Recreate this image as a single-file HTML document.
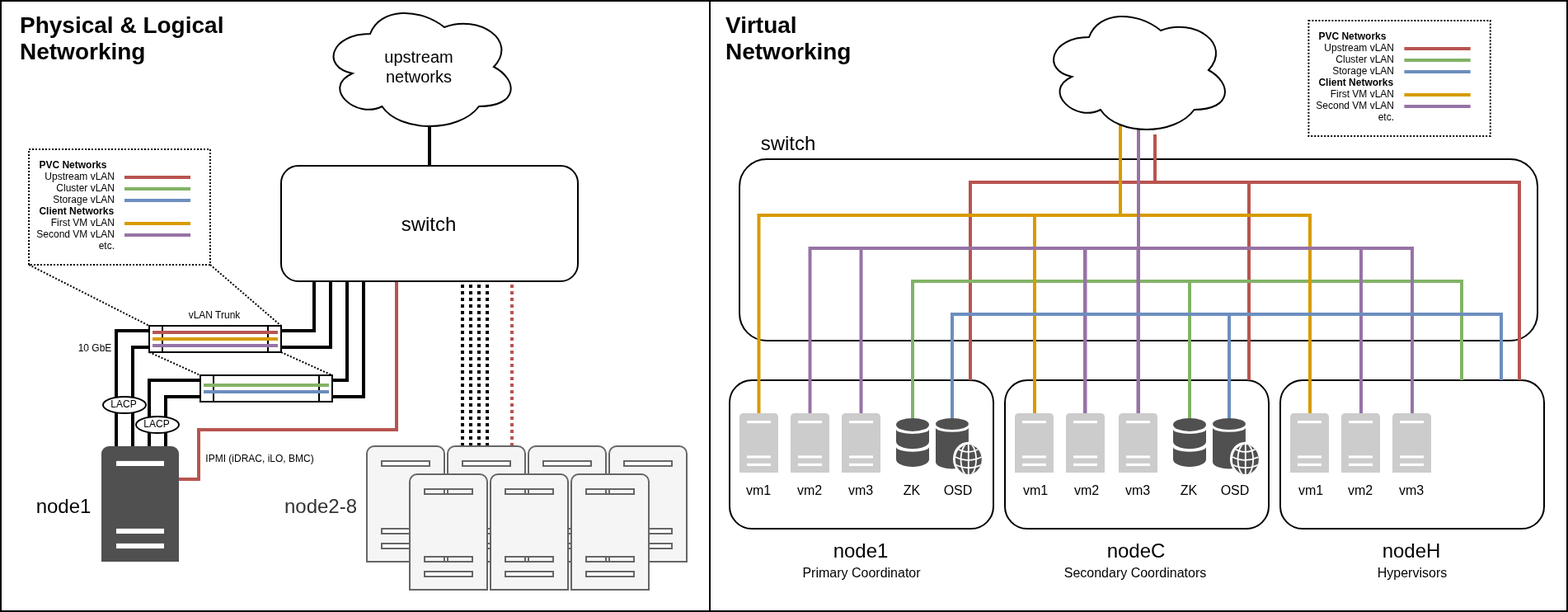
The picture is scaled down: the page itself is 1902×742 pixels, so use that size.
<!DOCTYPE html>
<html lang="en">
<head>
<meta charset="utf-8">
<title>Physical, Logical and Virtual Networking</title>
<style>
html,body{margin:0;padding:0;background:#fff;}
body{width:1902px;height:742px;overflow:hidden;}
svg{display:block;will-change:transform;}
svg text{font-family:"Liberation Sans",sans-serif;}
</style>
</head>
<body>
<svg width="1902" height="742" viewBox="0 0 1902 742">
<rect x="1" y="1" width="860" height="740" fill="#fff" stroke="#000" stroke-width="2"/>
<rect x="861" y="1" width="1040" height="740" fill="#fff" stroke="#000" stroke-width="2"/>
<text x="24" y="40" font-size="28" font-weight="bold">Physical &amp; Logical</text>
<text x="24" y="72" font-size="28" font-weight="bold">Networking</text>
<path d="M521 150 L521 201" fill="none" stroke="#000" stroke-width="4"/>
<path d="M449.00 41.00 C401.00 41.00 389.00 81.00 427.40 89.00 C389.00 106.60 432.20 145.00 463.40 129.00 C485.00 161.00 557.00 161.00 581.00 129.00 C629.00 129.00 629.00 97.00 599.00 81.00 C629.00 49.00 581.00 17.00 539.00 33.00 C509.00 9.00 461.00 9.00 449.00 41.00 Z" fill="#fff" stroke="#000" stroke-width="2"/>
<text x="508" y="76" font-size="20" text-anchor="middle">upstream</text>
<text x="508" y="100" font-size="20" text-anchor="middle">networks</text>
<path d="M561 345 L561 541" fill="none" stroke="#000" stroke-width="4" stroke-dasharray="4 4"/>
<path d="M571 345 L571 541" fill="none" stroke="#000" stroke-width="4" stroke-dasharray="4 4"/>
<path d="M581 345 L581 541" fill="none" stroke="#000" stroke-width="4" stroke-dasharray="4 4"/>
<path d="M591 345 L591 541" fill="none" stroke="#000" stroke-width="4" stroke-dasharray="4 4"/>
<path d="M621 345 L621 541" fill="none" stroke="#b85450" stroke-width="4" stroke-dasharray="4 4"/>
<path d="M341 401 L381 401 L381 341" fill="none" stroke="#000" stroke-width="4"/>
<path d="M341 421 L401 421 L401 341" fill="none" stroke="#000" stroke-width="4"/>
<path d="M403 461 L421 461 L421 341" fill="none" stroke="#000" stroke-width="4"/>
<path d="M403 481 L441 481 L441 341" fill="none" stroke="#000" stroke-width="4"/>
<path d="M141 541 L141 401 L181 401" fill="none" stroke="#000" stroke-width="4"/>
<path d="M161 541 L161 421 L181 421" fill="none" stroke="#000" stroke-width="4"/>
<path d="M181 541 L181 461 L243 461" fill="none" stroke="#000" stroke-width="4"/>
<path d="M201 541 L201 481 L243 481" fill="none" stroke="#000" stroke-width="4"/>
<path d="M217 581 L241 581 L241 521 L481 521 L481 341" fill="none" stroke="#b85450" stroke-width="4"/>
<rect x="341" y="201" width="360" height="140" rx="21" ry="21" fill="#fff" stroke="#000" stroke-width="2"/>
<text x="520" y="279.5" font-size="24" text-anchor="middle">switch</text>
<rect x="35" y="181" width="220" height="140" fill="#fff" stroke="#000" stroke-width="2" stroke-dasharray="2 2"/>
<text x="47.4" y="204" font-size="12" font-weight="bold">PVC Networks</text>
<text x="139" y="218" font-size="12" text-anchor="end">Upstream vLAN</text>
<path d="M151 215 L231 215" fill="none" stroke="#b85450" stroke-width="4"/>
<text x="139" y="232" font-size="12" text-anchor="end">Cluster vLAN</text>
<path d="M151 229 L231 229" fill="none" stroke="#82b366" stroke-width="4"/>
<text x="139" y="246" font-size="12" text-anchor="end">Storage vLAN</text>
<path d="M151 243 L231 243" fill="none" stroke="#6c8ebf" stroke-width="4"/>
<text x="47.4" y="260" font-size="12" font-weight="bold">Client Networks</text>
<text x="139" y="274" font-size="12" text-anchor="end">First VM vLAN</text>
<path d="M151 271 L231 271" fill="none" stroke="#d79b00" stroke-width="4"/>
<text x="139" y="288" font-size="12" text-anchor="end">Second VM vLAN</text>
<path d="M151 285 L231 285" fill="none" stroke="#9673a6" stroke-width="4"/>
<text x="139" y="302" font-size="12" text-anchor="end">etc.</text>
<path d="M35 321 L181 395" fill="none" stroke="#000" stroke-width="2" stroke-dasharray="2 2"/>
<path d="M255 321 L341 395" fill="none" stroke="#000" stroke-width="2" stroke-dasharray="2 2"/>
<path d="M181 427 L243 455" fill="none" stroke="#000" stroke-width="2" stroke-dasharray="2 2"/>
<path d="M341 427 L403 455" fill="none" stroke="#000" stroke-width="2" stroke-dasharray="2 2"/>
<rect x="181" y="395" width="160" height="32" fill="#fff" stroke="#000" stroke-width="2"/>
<path d="M197 395 L197 427" fill="none" stroke="#000" stroke-width="2"/>
<path d="M325 395 L325 427" fill="none" stroke="#000" stroke-width="2"/>
<path d="M185 403 L337 403" fill="none" stroke="#b85450" stroke-width="4"/>
<path d="M185 411 L337 411" fill="none" stroke="#d79b00" stroke-width="4"/>
<path d="M185 419 L337 419" fill="none" stroke="#9673a6" stroke-width="4"/>
<rect x="243" y="455" width="160" height="32" fill="#fff" stroke="#000" stroke-width="2"/>
<path d="M259 455 L259 487" fill="none" stroke="#000" stroke-width="2"/>
<path d="M387 455 L387 487" fill="none" stroke="#000" stroke-width="2"/>
<path d="M247 467 L399 467" fill="none" stroke="#82b366" stroke-width="4"/>
<path d="M247 475 L399 475" fill="none" stroke="#6c8ebf" stroke-width="4"/>
<text x="260" y="386" font-size="12" text-anchor="middle">vLAN Trunk</text>
<text x="115" y="426" font-size="12" text-anchor="middle">10 GbE</text>
<ellipse cx="151" cy="491" rx="26" ry="10" fill="#fff" stroke="#000" stroke-width="2"/>
<text x="150" y="493.5" font-size="12" text-anchor="middle">LACP</text>
<ellipse cx="191" cy="515" rx="26" ry="10" fill="#fff" stroke="#000" stroke-width="2"/>
<text x="190" y="517.5" font-size="12" text-anchor="middle">LACP</text>
<text x="315" y="560" font-size="12" text-anchor="middle">IPMI (iDRAC, iLO, BMC)</text>
<path d="M123 681 L123 550 A9 9 0 0 1 132 541 L208 541 A9 9 0 0 1 217 550 L217 681 Z" fill="#505050"/>
<rect x="141" y="558.9" width="58" height="6.1" fill="#fff"/>
<rect x="141" y="640.9" width="58" height="6.1" fill="#fff"/>
<rect x="141" y="658.9" width="58" height="6.1" fill="#fff"/>
<text x="77" y="622" font-size="24" text-anchor="middle">node1</text>
<text x="389" y="622" font-size="24" text-anchor="middle" fill="#333">node2-8</text>
<path d="M445 681 L445 550 A9 9 0 0 1 454 541 L530 541 A9 9 0 0 1 539 550 L539 681 Z M463 559 h58 v6 h-58 Z M463 641 h58 v6 h-58 Z M463 659 h58 v6 h-58 Z" fill="#f5f5f5" fill-rule="evenodd" stroke="#666" stroke-width="2" stroke-linejoin="miter"/>
<path d="M543 681 L543 550 A9 9 0 0 1 552 541 L628 541 A9 9 0 0 1 637 550 L637 681 Z M561 559 h58 v6 h-58 Z M561 641 h58 v6 h-58 Z M561 659 h58 v6 h-58 Z" fill="#f5f5f5" fill-rule="evenodd" stroke="#666" stroke-width="2" stroke-linejoin="miter"/>
<path d="M641 681 L641 550 A9 9 0 0 1 650 541 L726 541 A9 9 0 0 1 735 550 L735 681 Z M659 559 h58 v6 h-58 Z M659 641 h58 v6 h-58 Z M659 659 h58 v6 h-58 Z" fill="#f5f5f5" fill-rule="evenodd" stroke="#666" stroke-width="2" stroke-linejoin="miter"/>
<path d="M739 681 L739 550 A9 9 0 0 1 748 541 L824 541 A9 9 0 0 1 833 550 L833 681 Z M757 559 h58 v6 h-58 Z M757 641 h58 v6 h-58 Z M757 659 h58 v6 h-58 Z" fill="#f5f5f5" fill-rule="evenodd" stroke="#666" stroke-width="2" stroke-linejoin="miter"/>
<path d="M497 715 L497 584 A9 9 0 0 1 506 575 L582 575 A9 9 0 0 1 591 584 L591 715 Z M515 593 h58 v6 h-58 Z M515 675 h58 v6 h-58 Z M515 693 h58 v6 h-58 Z" fill="#f5f5f5" fill-rule="evenodd" stroke="#666" stroke-width="2" stroke-linejoin="miter"/>
<path d="M595 715 L595 584 A9 9 0 0 1 604 575 L680 575 A9 9 0 0 1 689 584 L689 715 Z M613 593 h58 v6 h-58 Z M613 675 h58 v6 h-58 Z M613 693 h58 v6 h-58 Z" fill="#f5f5f5" fill-rule="evenodd" stroke="#666" stroke-width="2" stroke-linejoin="miter"/>
<path d="M693 715 L693 584 A9 9 0 0 1 702 575 L778 575 A9 9 0 0 1 787 584 L787 715 Z M711 593 h58 v6 h-58 Z M711 675 h58 v6 h-58 Z M711 693 h58 v6 h-58 Z" fill="#f5f5f5" fill-rule="evenodd" stroke="#666" stroke-width="2" stroke-linejoin="miter"/>
<text x="880" y="40" font-size="28" font-weight="bold">Virtual</text>
<text x="880" y="72" font-size="28" font-weight="bold">Networking</text>
<text x="956" y="182" font-size="24" text-anchor="middle">switch</text>
<rect x="897" y="193" width="968" height="220" rx="33" ry="33" fill="#fff" stroke="#000" stroke-width="2"/>
<rect x="1587.4" y="25" width="220.4" height="140" fill="#fff" stroke="#000" stroke-width="2" stroke-dasharray="2 2"/>
<text x="1599.4" y="48" font-size="12" font-weight="bold">PVC Networks</text>
<text x="1691" y="62" font-size="12" text-anchor="end">Upstream vLAN</text>
<path d="M1703.4 59 L1783.7 59" fill="none" stroke="#b85450" stroke-width="4"/>
<text x="1691" y="76" font-size="12" text-anchor="end">Cluster vLAN</text>
<path d="M1703.4 73 L1783.7 73" fill="none" stroke="#82b366" stroke-width="4"/>
<text x="1691" y="90" font-size="12" text-anchor="end">Storage vLAN</text>
<path d="M1703.4 87 L1783.7 87" fill="none" stroke="#6c8ebf" stroke-width="4"/>
<text x="1599.4" y="104" font-size="12" font-weight="bold">Client Networks</text>
<text x="1691" y="118" font-size="12" text-anchor="end">First VM vLAN</text>
<path d="M1703.4 115 L1783.7 115" fill="none" stroke="#d79b00" stroke-width="4"/>
<text x="1691" y="132" font-size="12" text-anchor="end">Second VM vLAN</text>
<path d="M1703.4 129 L1783.7 129" fill="none" stroke="#9673a6" stroke-width="4"/>
<text x="1691" y="146" font-size="12" text-anchor="end">etc.</text>
<rect x="885" y="461" width="320" height="180" rx="27" ry="27" fill="#fff" stroke="#000" stroke-width="2"/>
<rect x="1219" y="461" width="320" height="180" rx="27" ry="27" fill="#fff" stroke="#000" stroke-width="2"/>
<rect x="1553" y="461" width="320" height="180" rx="27" ry="27" fill="#fff" stroke="#000" stroke-width="2"/>
<path d="M1401 163 L1401 221" fill="none" stroke="#b85450" stroke-width="4" stroke-linejoin="miter"/>
<path d="M1177 461 L1177 221 L1843 221 L1843 461" fill="none" stroke="#b85450" stroke-width="4" stroke-linejoin="miter"/>
<path d="M1515 221 L1515 461" fill="none" stroke="#b85450" stroke-width="4" stroke-linejoin="miter"/>
<path d="M1107 507 L1107 341 L1773 341 L1773 461" fill="none" stroke="#82b366" stroke-width="4" stroke-linejoin="miter"/>
<path d="M1443 341 L1443 507" fill="none" stroke="#82b366" stroke-width="4" stroke-linejoin="miter"/>
<path d="M920.5 501 L920.5 261 L1589 261 L1589 501" fill="none" stroke="#d79b00" stroke-width="4" stroke-linejoin="miter"/>
<path d="M1255 261 L1255 501" fill="none" stroke="#d79b00" stroke-width="4" stroke-linejoin="miter"/>
<path d="M1359 150 L1359 261" fill="none" stroke="#d79b00" stroke-width="4" stroke-linejoin="miter"/>
<path d="M982.5 501 L982.5 301 L1713 301 L1713 501" fill="none" stroke="#9673a6" stroke-width="4" stroke-linejoin="miter"/>
<path d="M1044.5 301 L1044.5 501" fill="none" stroke="#9673a6" stroke-width="4" stroke-linejoin="miter"/>
<path d="M1651 301 L1651 501" fill="none" stroke="#9673a6" stroke-width="4" stroke-linejoin="miter"/>
<path d="M1316.25 301 L1316.25 501" fill="none" stroke="#9673a6" stroke-width="4.5"/>
<path d="M1380.75 301 L1380.75 501" fill="none" stroke="#9673a6" stroke-width="4.5"/>
<path d="M1381 150 L1381 303" fill="none" stroke="#9673a6" stroke-width="4" stroke-linejoin="miter"/>
<path d="M1155 507 L1155 381 L1821 381 L1821 461" fill="none" stroke="#6c8ebf" stroke-width="4" stroke-linejoin="miter"/>
<path d="M1491 381 L1491 507" fill="none" stroke="#6c8ebf" stroke-width="4" stroke-linejoin="miter"/>
<path d="M1321.00 45.00 C1274.60 45.00 1263.00 85.00 1300.12 93.00 C1263.00 110.60 1304.76 149.00 1334.92 133.00 C1355.80 165.00 1425.40 165.00 1448.60 133.00 C1495.00 133.00 1495.00 101.00 1466.00 85.00 C1495.00 53.00 1448.60 21.00 1408.00 37.00 C1379.00 13.00 1332.60 13.00 1321.00 45.00 Z" fill="#fff" stroke="#000" stroke-width="2"/>
<path d="M897 573 L897 505.6 A4.6 4.6 0 0 1 901.6 501 L939.4 501 A4.6 4.6 0 0 1 944 505.6 L944 573 Z" fill="#cccccc"/>
<rect x="906" y="510.051" width="29" height="3.08571" fill="#fff"/>
<rect x="906" y="552.377" width="29" height="3.13714" fill="#fff"/>
<rect x="906" y="561.84" width="29" height="3.13714" fill="#fff"/>
<text x="920" y="600" font-size="16" text-anchor="middle">vm1</text>
<path d="M959 573 L959 505.6 A4.6 4.6 0 0 1 963.6 501 L1001.4 501 A4.6 4.6 0 0 1 1006 505.6 L1006 573 Z" fill="#cccccc"/>
<rect x="968" y="510.051" width="29" height="3.08571" fill="#fff"/>
<rect x="968" y="552.377" width="29" height="3.13714" fill="#fff"/>
<rect x="968" y="561.84" width="29" height="3.13714" fill="#fff"/>
<text x="982" y="600" font-size="16" text-anchor="middle">vm2</text>
<path d="M1021 573 L1021 505.6 A4.6 4.6 0 0 1 1025.6 501 L1063.4 501 A4.6 4.6 0 0 1 1068 505.6 L1068 573 Z" fill="#cccccc"/>
<rect x="1030" y="510.051" width="29" height="3.08571" fill="#fff"/>
<rect x="1030" y="552.377" width="29" height="3.13714" fill="#fff"/>
<rect x="1030" y="561.84" width="29" height="3.13714" fill="#fff"/>
<text x="1044" y="600" font-size="16" text-anchor="middle">vm3</text>
<ellipse cx="1107" cy="514.95" rx="20" ry="7.95" fill="#505050"/>
<path d="M1087 520.4 A20 5.6 0 0 0 1127 520.4 L1127 535.2 A20 9 0 0 1 1087 535.2 Z" fill="#505050"/>
<path d="M1087 542.1 A20 5.6 0 0 0 1127 542.1 L1127 556.9 A20 9 0 0 1 1087 556.9 Z" fill="#505050"/>
<ellipse cx="1154.95" cy="514" rx="19.95" ry="7" fill="#505050"/>
<path d="M1135 518.5 A19.95 5.3 0 0 0 1174.9 518.5 L1174.9 560 A19.95 8.5 0 0 1 1135 560 Z" fill="#505050"/>
<ellipse cx="1174.5" cy="556.55" rx="18.55" ry="20.8" fill="#fff"/>
<ellipse cx="1174.8" cy="557.05" rx="15.95" ry="18" fill="#505050"/>
<clipPath id="gc133"><ellipse cx="1174.8" cy="557.05" rx="15.95" ry="18"/></clipPath>
<g clip-path="url(#gc133)"><g fill="none" stroke="#fff" stroke-width="1.8"><path d="M1174.8 539.05 v36"/><ellipse cx="1174.8" cy="557.05" rx="9.251" ry="19.8"/><path d="M1158.85 542.15 Q1174.8 553.55 1190.75 542.15"/><path d="M1158.85 553.95 Q1174.8 561.75 1190.75 553.95"/><path d="M1158.85 563.3 Q1174.8 571.2 1190.75 563.3"/></g></g>
<text x="1106" y="600" font-size="16" text-anchor="middle">ZK</text>
<text x="1162" y="600" font-size="16" text-anchor="middle">OSD</text>
<path d="M1231 573 L1231 505.6 A4.6 4.6 0 0 1 1235.6 501 L1273.4 501 A4.6 4.6 0 0 1 1278 505.6 L1278 573 Z" fill="#cccccc"/>
<rect x="1240" y="510.051" width="29" height="3.08571" fill="#fff"/>
<rect x="1240" y="552.377" width="29" height="3.13714" fill="#fff"/>
<rect x="1240" y="561.84" width="29" height="3.13714" fill="#fff"/>
<text x="1256" y="600" font-size="16" text-anchor="middle">vm1</text>
<path d="M1293 573 L1293 505.6 A4.6 4.6 0 0 1 1297.6 501 L1335.4 501 A4.6 4.6 0 0 1 1340 505.6 L1340 573 Z" fill="#cccccc"/>
<rect x="1302" y="510.051" width="29" height="3.08571" fill="#fff"/>
<rect x="1302" y="552.377" width="29" height="3.13714" fill="#fff"/>
<rect x="1302" y="561.84" width="29" height="3.13714" fill="#fff"/>
<text x="1318" y="600" font-size="16" text-anchor="middle">vm2</text>
<path d="M1357 573 L1357 505.6 A4.6 4.6 0 0 1 1361.6 501 L1399.4 501 A4.6 4.6 0 0 1 1404 505.6 L1404 573 Z" fill="#cccccc"/>
<rect x="1366" y="510.051" width="29" height="3.08571" fill="#fff"/>
<rect x="1366" y="552.377" width="29" height="3.13714" fill="#fff"/>
<rect x="1366" y="561.84" width="29" height="3.13714" fill="#fff"/>
<text x="1380" y="600" font-size="16" text-anchor="middle">vm3</text>
<ellipse cx="1443" cy="514.95" rx="20" ry="7.95" fill="#505050"/>
<path d="M1423 520.4 A20 5.6 0 0 0 1463 520.4 L1463 535.2 A20 9 0 0 1 1423 535.2 Z" fill="#505050"/>
<path d="M1423 542.1 A20 5.6 0 0 0 1463 542.1 L1463 556.9 A20 9 0 0 1 1423 556.9 Z" fill="#505050"/>
<ellipse cx="1490.95" cy="514" rx="19.95" ry="7" fill="#505050"/>
<path d="M1471 518.5 A19.95 5.3 0 0 0 1510.9 518.5 L1510.9 560 A19.95 8.5 0 0 1 1471 560 Z" fill="#505050"/>
<ellipse cx="1510.5" cy="556.55" rx="18.55" ry="20.8" fill="#fff"/>
<ellipse cx="1510.8" cy="557.05" rx="15.95" ry="18" fill="#505050"/>
<clipPath id="gc159"><ellipse cx="1510.8" cy="557.05" rx="15.95" ry="18"/></clipPath>
<g clip-path="url(#gc159)"><g fill="none" stroke="#fff" stroke-width="1.8"><path d="M1510.8 539.05 v36"/><ellipse cx="1510.8" cy="557.05" rx="9.251" ry="19.8"/><path d="M1494.85 542.15 Q1510.8 553.55 1526.75 542.15"/><path d="M1494.85 553.95 Q1510.8 561.75 1526.75 553.95"/><path d="M1494.85 563.3 Q1510.8 571.2 1526.75 563.3"/></g></g>
<text x="1442" y="600" font-size="16" text-anchor="middle">ZK</text>
<text x="1498" y="600" font-size="16" text-anchor="middle">OSD</text>
<path d="M1565 573 L1565 505.6 A4.6 4.6 0 0 1 1569.6 501 L1607.4 501 A4.6 4.6 0 0 1 1612 505.6 L1612 573 Z" fill="#cccccc"/>
<rect x="1574" y="510.051" width="29" height="3.08571" fill="#fff"/>
<rect x="1574" y="552.377" width="29" height="3.13714" fill="#fff"/>
<rect x="1574" y="561.84" width="29" height="3.13714" fill="#fff"/>
<text x="1590" y="600" font-size="16" text-anchor="middle">vm1</text>
<path d="M1627 573 L1627 505.6 A4.6 4.6 0 0 1 1631.6 501 L1669.4 501 A4.6 4.6 0 0 1 1674 505.6 L1674 573 Z" fill="#cccccc"/>
<rect x="1636" y="510.051" width="29" height="3.08571" fill="#fff"/>
<rect x="1636" y="552.377" width="29" height="3.13714" fill="#fff"/>
<rect x="1636" y="561.84" width="29" height="3.13714" fill="#fff"/>
<text x="1650" y="600" font-size="16" text-anchor="middle">vm2</text>
<path d="M1689 573 L1689 505.6 A4.6 4.6 0 0 1 1693.6 501 L1731.4 501 A4.6 4.6 0 0 1 1736 505.6 L1736 573 Z" fill="#cccccc"/>
<rect x="1698" y="510.051" width="29" height="3.08571" fill="#fff"/>
<rect x="1698" y="552.377" width="29" height="3.13714" fill="#fff"/>
<rect x="1698" y="561.84" width="29" height="3.13714" fill="#fff"/>
<text x="1712" y="600" font-size="16" text-anchor="middle">vm3</text>
<text x="1044" y="676" font-size="24" text-anchor="middle">node1</text>
<text x="1045" y="700" font-size="16" text-anchor="middle">Primary Coordinator</text>
<text x="1378" y="676" font-size="24" text-anchor="middle">nodeC</text>
<text x="1377" y="700" font-size="16" text-anchor="middle">Secondary Coordinators</text>
<text x="1712" y="676" font-size="24" text-anchor="middle">nodeH</text>
<text x="1713" y="700" font-size="16" text-anchor="middle">Hypervisors</text>
</svg>
</body>
</html>
